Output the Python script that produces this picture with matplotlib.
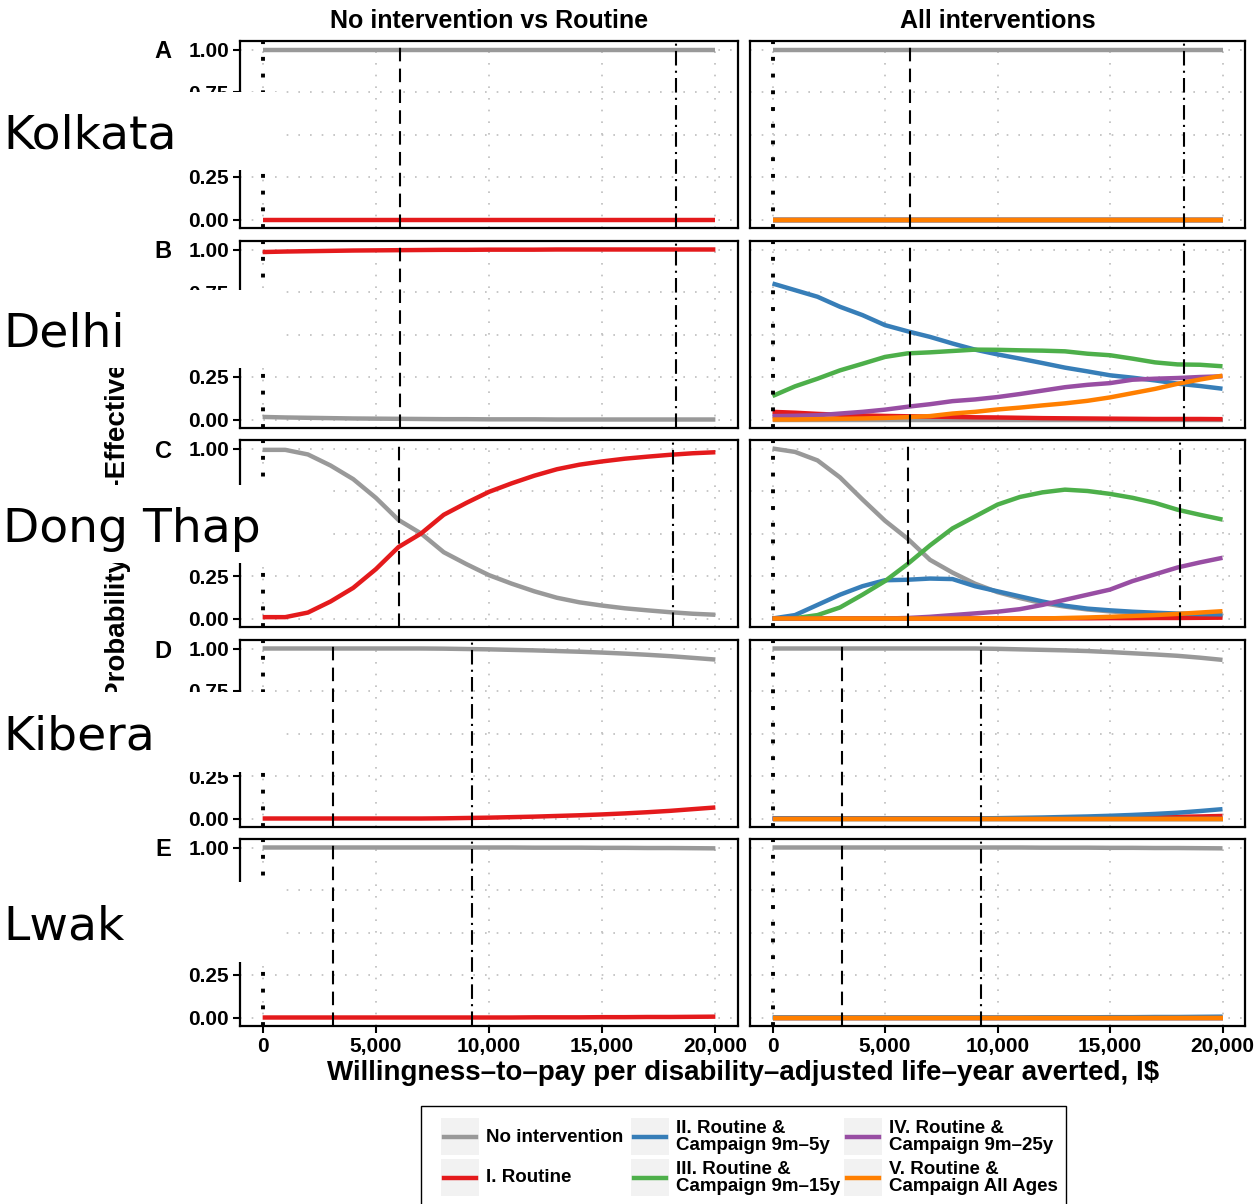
import matplotlib
matplotlib.use("Agg")
import matplotlib.pyplot as plt
from matplotlib.patches import Rectangle
from matplotlib.lines import Line2D

plt.rcParams['font.family'] = ['Liberation Sans', 'DejaVu Sans']
plt.rcParams['font.weight'] = 'bold'

# willingness-to-pay grid (I$ per DALY averted)
wtp = [0, 1000, 2000, 3000, 4000, 5000, 6000, 7000, 8000, 9000, 10000,
       11000, 12000, 13000, 14000, 15000, 16000, 17000, 18000, 19000, 20000]

# ---- A: Kolkata ----
kol_l_none = [1.0, 1.0, 1.0, 1.0, 1.0, 1.0, 1.0, 1.0, 1.0, 1.0, 1.0,
              1.0, 1.0, 1.0, 1.0, 1.0, 1.0, 1.0, 1.0, 1.0, 1.0]
kol_l_rout = [0.0, 0.0, 0.0, 0.0, 0.0, 0.0, 0.0, 0.0, 0.0, 0.0, 0.0,
              0.0, 0.0, 0.0, 0.0, 0.0, 0.0, 0.0, 0.0, 0.0, 0.0]
kol_r_none = [1.0, 1.0, 1.0, 1.0, 1.0, 1.0, 1.0, 1.0, 1.0, 1.0, 1.0,
              1.0, 1.0, 1.0, 1.0, 1.0, 1.0, 1.0, 1.0, 1.0, 1.0]
kol_r_zero = [0.0, 0.0, 0.0, 0.0, 0.0, 0.0, 0.0, 0.0, 0.0, 0.0, 0.0,
              0.0, 0.0, 0.0, 0.0, 0.0, 0.0, 0.0, 0.0, 0.0, 0.0]

# ---- B: Delhi ----
del_l_none = [0.015, 0.012, 0.010, 0.008, 0.006, 0.005, 0.004, 0.003, 0.002, 0.002, 0.001,
              0.001, 0.001, 0.0, 0.0, 0.0, 0.0, 0.0, 0.0, 0.0, 0.0]
del_l_rout = [0.985, 0.988, 0.990, 0.992, 0.994, 0.995, 0.996, 0.997, 0.998, 0.998, 0.999,
              0.999, 0.999, 1.0, 1.0, 1.0, 1.0, 1.0, 1.0, 1.0, 1.0]
del_r_none = [0.0, 0.0, 0.0, 0.0, 0.0, 0.0, 0.0, 0.0, 0.0, 0.0, 0.0,
              0.0, 0.0, 0.0, 0.0, 0.0, 0.0, 0.0, 0.0, 0.0, 0.0]
del_r_rout = [0.045, 0.040, 0.033, 0.028, 0.024, 0.021, 0.019, 0.017, 0.015, 0.013, 0.012,
              0.010, 0.008, 0.007, 0.006, 0.005, 0.004, 0.003, 0.003, 0.003, 0.002]
del_r_c5 = [0.800, 0.761, 0.722, 0.663, 0.614, 0.555, 0.519, 0.486, 0.447, 0.411, 0.383,
            0.358, 0.332, 0.305, 0.283, 0.260, 0.246, 0.230, 0.211, 0.197, 0.181]
del_r_c15 = [0.138, 0.195, 0.240, 0.289, 0.328, 0.368, 0.389, 0.395, 0.403, 0.411, 0.410,
             0.407, 0.405, 0.401, 0.387, 0.378, 0.358, 0.336, 0.324, 0.322, 0.313]
del_r_c25 = [0.020, 0.022, 0.025, 0.035, 0.045, 0.058, 0.075, 0.090, 0.108, 0.118, 0.132,
             0.150, 0.170, 0.190, 0.204, 0.214, 0.234, 0.240, 0.244, 0.250, 0.254]
del_r_all = [0.0, 0.0, 0.002, 0.004, 0.006, 0.009, 0.014, 0.020, 0.035, 0.045, 0.059,
             0.070, 0.083, 0.095, 0.110, 0.130, 0.155, 0.180, 0.210, 0.235, 0.258]

# ---- C: Dong Thap ----
dt_l_none = [0.992, 0.992, 0.965, 0.900, 0.820, 0.710, 0.580, 0.500, 0.390, 0.320, 0.255,
             0.205, 0.160, 0.122, 0.095, 0.076, 0.060, 0.048, 0.037, 0.028, 0.022]
dt_l_rout = [0.008, 0.008, 0.035, 0.100, 0.180, 0.290, 0.420, 0.500, 0.610, 0.680, 0.745,
             0.795, 0.840, 0.878, 0.905, 0.924, 0.940, 0.952, 0.963, 0.972, 0.978]
dt_r_none = [1.000, 0.980, 0.930, 0.830, 0.700, 0.575, 0.470, 0.345, 0.270, 0.205, 0.155,
             0.120, 0.090, 0.070, 0.053, 0.042, 0.032, 0.025, 0.020, 0.016, 0.014]
dt_r_rout = [0.0, 0.0, 0.0, 0.0, 0.0, 0.0, 0.0, 0.0, 0.0, 0.0, 0.0,
             0.0, 0.0, 0.001, 0.001, 0.002, 0.002, 0.003, 0.003, 0.004, 0.005]
dt_r_c5 = [0.000, 0.020, 0.080, 0.140, 0.190, 0.225, 0.228, 0.235, 0.232, 0.190, 0.160,
           0.130, 0.100, 0.075, 0.058, 0.048, 0.040, 0.034, 0.029, 0.026, 0.024]
dt_r_c15 = [0.000, 0.002, 0.020, 0.065, 0.140, 0.220, 0.320, 0.430, 0.530, 0.600, 0.670,
            0.715, 0.742, 0.758, 0.750, 0.733, 0.710, 0.680, 0.640, 0.610, 0.582]
dt_r_c25 = [0.0, 0.0, 0.0, 0.0, 0.0, 0.0, 0.003, 0.010, 0.020, 0.030, 0.040,
            0.055, 0.080, 0.110, 0.140, 0.170, 0.220, 0.260, 0.300, 0.330, 0.357]
dt_r_all = [0.0, 0.0, 0.0, 0.0, 0.0, 0.0, 0.0, 0.0, 0.0, 0.0, 0.0,
            0.0, 0.0, 0.003, 0.006, 0.010, 0.015, 0.020, 0.027, 0.035, 0.043]

# ---- D: Kibera ----
kib_l_none = [1.0, 1.0, 1.0, 1.0, 1.0, 1.0, 1.0, 1.0, 0.999, 0.997, 0.995,
              0.992, 0.989, 0.985, 0.981, 0.976, 0.970, 0.963, 0.955, 0.945, 0.935]
kib_l_rout = [0.0, 0.0, 0.0, 0.0, 0.0, 0.0, 0.0, 0.0, 0.001, 0.003, 0.005,
              0.008, 0.011, 0.015, 0.019, 0.024, 0.030, 0.037, 0.045, 0.055, 0.065]
kib_r_none = [1.0, 1.0, 1.0, 1.0, 1.0, 1.0, 1.0, 1.0, 1.0, 1.0, 0.998,
              0.995, 0.992, 0.989, 0.985, 0.979, 0.972, 0.965, 0.957, 0.946, 0.933]
kib_r_rout = [0.0, 0.0, 0.0, 0.0, 0.0, 0.0, 0.0, 0.0, 0.0, 0.0, 0.0,
              0.0, 0.001, 0.002, 0.003, 0.004, 0.006, 0.008, 0.010, 0.012, 0.015]
kib_r_c5 = [0.0, 0.0, 0.0, 0.0, 0.0, 0.0, 0.0, 0.0, 0.0, 0.0, 0.002,
            0.004, 0.006, 0.009, 0.012, 0.016, 0.021, 0.027, 0.034, 0.044, 0.055]
kib_r_zero = [0.0, 0.0, 0.0, 0.0, 0.0, 0.0, 0.0, 0.0, 0.0, 0.0, 0.0,
              0.0, 0.0, 0.0, 0.0, 0.0, 0.0, 0.0, 0.0, 0.0, 0.0]

# ---- E: Lwak ----
lwk_l_none = [1.0, 1.0, 1.0, 1.0, 1.0, 1.0, 1.0, 1.0, 1.0, 1.0, 1.0,
              1.0, 0.999, 0.999, 0.999, 0.998, 0.998, 0.997, 0.997, 0.996, 0.995]
lwk_l_rout = [0.0, 0.0, 0.0, 0.0, 0.0, 0.0, 0.0, 0.0, 0.0, 0.0, 0.0,
              0.0, 0.001, 0.001, 0.001, 0.002, 0.002, 0.003, 0.003, 0.004, 0.005]
lwk_r_none = [1.0, 1.0, 1.0, 1.0, 1.0, 1.0, 1.0, 1.0, 1.0, 1.0, 1.0,
              1.0, 0.999, 0.999, 0.999, 0.998, 0.998, 0.997, 0.997, 0.996, 0.995]
lwk_r_c5 = [0.0, 0.0, 0.0, 0.0, 0.0, 0.0, 0.0, 0.0, 0.0, 0.0, 0.0,
            0.0, 0.001, 0.001, 0.001, 0.002, 0.002, 0.003, 0.003, 0.004, 0.005]
lwk_r_zero = [0.0, 0.0, 0.0, 0.0, 0.0, 0.0, 0.0, 0.0, 0.0, 0.0, 0.0,
              0.0, 0.0, 0.0, 0.0, 0.0, 0.0, 0.0, 0.0, 0.0, 0.0]

# cost-effectiveness thresholds (1x and 3x GDP per capita)
thr_india = [6090, 18270]
thr_vietnam = [6040, 18110]
thr_kenya = [3090, 9260]

cities = ['Kolkata', 'Delhi', 'Dong Thap', 'Kibera', 'Lwak']
letters = ['A', 'B', 'C', 'D', 'E']
col_titles = ['No intervention vs Routine', 'All interventions']

strategies = ['No intervention', 'I. Routine', 'II. Routine &\nCampaign 9m\u20135y',
              'III. Routine &\nCampaign 9m\u201315y', 'IV. Routine &\nCampaign 9m\u201325y',
              'V. Routine &\nCampaign All Ages']
colors = ['#999999', '#E41A1C', '#377EB8', '#4DAF4A', '#984EA3', '#FF7F00']

# series per panel, in strategy order
rows = [
    ([kol_l_none, kol_l_rout],
     [kol_r_none, kol_r_zero, kol_r_zero, kol_r_zero, kol_r_zero, kol_r_zero], thr_india),
    ([del_l_none, del_l_rout],
     [del_r_none, del_r_rout, del_r_c5, del_r_c15, del_r_c25, del_r_all], thr_india),
    ([dt_l_none, dt_l_rout],
     [dt_r_none, dt_r_rout, dt_r_c5, dt_r_c15, dt_r_c25, dt_r_all], thr_vietnam),
    ([kib_l_none, kib_l_rout],
     [kib_r_none, kib_r_rout, kib_r_c5, kib_r_zero, kib_r_zero, kib_r_zero], thr_kenya),
    ([lwk_l_none, lwk_l_rout],
     [lwk_r_none, lwk_r_zero, lwk_r_c5, lwk_r_zero, lwk_r_zero, lwk_r_zero], thr_kenya),
]

W, H = 1259, 1204
fig = plt.figure(figsize=(W / 100, H / 100), dpi=100)


def fbox(x0, y0, x1, y1):
    # pixel box (top-left origin) -> figure fraction rect
    return [x0 / W, 1 - y1 / H, (x1 - x0) / W, (y1 - y0) / H]


tops = [41, 241, 440, 640, 839]
ph = 187
cols_px = [(240, 738), (750, 1245)]

for i, (left, right, thr) in enumerate(rows):
    for j, series in enumerate([left, right]):
        x0, x1 = cols_px[j]
        ax = fig.add_axes(fbox(x0, tops[i], x1, tops[i] + ph))
        ax.set_xlim(-1000, 21000)
        ax.set_ylim(-0.05, 1.05)
        ax.set_xticks([0, 5000, 10000, 15000, 20000])
        ax.set_yticks([0, 0.25, 0.5, 0.75, 1.0])
        ax.grid(True, color='#bdbdbd', lw=1.2, linestyle=(0, (1, 6)))
        ax.set_axisbelow(True)
        for k, ys in enumerate(series):
            ax.plot(wtp, ys, color=colors[k], lw=3.2, zorder=2,
                    solid_capstyle='butt', solid_joinstyle='round')
        ax.axvline(0, color='black', lw=2.8, ls=(0, (1, 3.3)), zorder=3)
        ax.axvline(thr[0], color='black', lw=1.5, ls=(0, (6.5, 3.5)), zorder=3)
        ax.axvline(thr[1], color='black', lw=1.5, ls=(0, (7, 2.5, 1, 2.5)), zorder=3)
        for s in ax.spines.values():
            s.set_linewidth(1.6)
            s.set_color('black')
        if j == 0:
            ax.set_yticklabels(['0.00', '0.25', '0.50', '0.75', '1.00'])
            ax.tick_params(axis='y', length=5, width=1.5, labelsize=15, pad=3)
        else:
            ax.tick_params(axis='y', left=False, labelleft=False)
        if i == len(rows) - 1:
            ax.set_xticklabels(['0', '5,000', '10,000', '15,000', '20,000'])
            ax.tick_params(axis='x', length=5, width=1.5, labelsize=15, pad=3)
        else:
            ax.tick_params(axis='x', bottom=False, labelbottom=False)

    fig.text(163 / W, 1 - (tops[i] + 11) / H, letters[i], fontsize=17,
             ha='center', va='center')

# column titles
for j, t in enumerate(col_titles):
    cx = (cols_px[j][0] + cols_px[j][1]) / 2
    fig.text(cx / W, 1 - 21 / H, t, fontsize=18, ha='center', va='center')

# axis titles
fig.text(118 / W, 1 - 531 / H, 'Probability Cost-Effective', fontsize=20,
         rotation=90, ha='center', va='center')
fig.text(743 / W, 1 - 1073 / H,
         'Willingness\u2013to\u2013pay per disability\u2013adjusted life\u2013year averted, I$',
         fontsize=20, ha='center', va='center')

# city name boxes over the left margin
box_rows = [(92, 170, 280), (290, 368, 280), (485, 563, 328), (692, 772, 280), (882, 962, 280)]
for name, (bt, bb, br) in zip(cities, box_rows):
    fig.add_artist(Rectangle((0, 1 - bb / H), br / W, (bb - bt) / H,
                             transform=fig.transFigure, facecolor='white',
                             edgecolor='none', zorder=10))
    fig.text(3 / W, 1 - ((bt + bb) / 2 + 17.5) / H, name, family='DejaVu Sans',
             weight='normal', fontsize=34, ha='left', va='baseline', zorder=11)

# legend
fig.add_artist(Rectangle((421 / W, 1 - 1230 / H), (1066 - 421) / W, (1230 - 1106) / H,
                         transform=fig.transFigure, facecolor='white',
                         edgecolor='black', lw=1.0, zorder=5))
key_x = [441, 631, 844]
key_y = [1118, 1159]
for k, (lab, c) in enumerate(zip(strategies, colors)):
    cx = key_x[k // 2]
    ky = key_y[k % 2]
    fig.add_artist(Rectangle((cx / W, 1 - (ky + 37) / H), 38 / W, 37 / H,
                             transform=fig.transFigure, facecolor='#f2f2f2',
                             edgecolor='none', zorder=6))
    yc = 1 - (ky + 19) / H
    fig.add_artist(Line2D([(cx + 3) / W, (cx + 35) / W], [yc, yc],
                          transform=fig.transFigure, color=c, lw=3.2, zorder=7))
    fig.text((cx + 45) / W, yc, lab, fontsize=13.5, ha='left', va='center',
             linespacing=0.95, zorder=7)

fig.savefig('out.png', dpi=100)
